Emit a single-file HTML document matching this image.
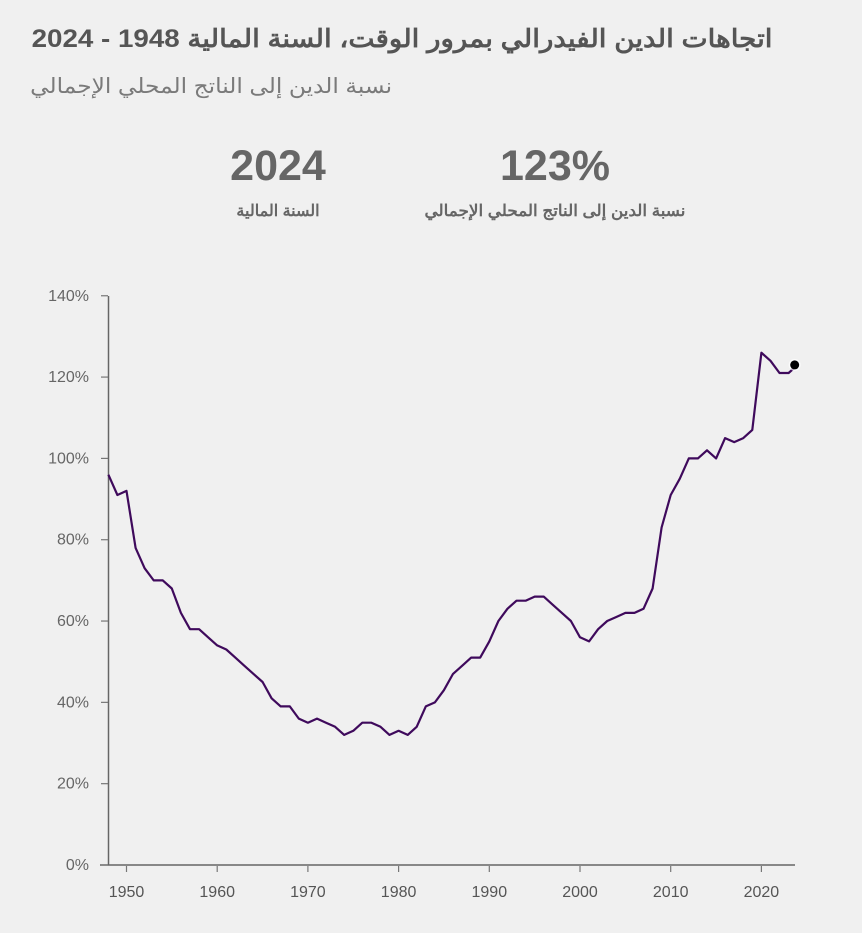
<!DOCTYPE html>
<html><head><meta charset="utf-8"><style>
body{margin:0;width:862px;height:933px;background:#f0f0f0;overflow:hidden;font-family:"Liberation Sans","Noto Sans CJK SC",sans-serif;}
.t{position:absolute;direction:rtl;white-space:nowrap;}
</style></head><body>
<div class="t" style="right:89px;top:24px;font-size:25px;font-weight:bold;color:#555;transform:scaleX(1.11);transform-origin:right top;">اتجاهات الدين الفيدرالي بمرور الوقت، السنة المالية 1948 - 2024</div>
<div class="t" style="right:470px;top:74px;font-size:21px;color:#7a7a7a;transform:scaleX(1.11);transform-origin:right top;">نسبة الدين إلى الناتج المحلي الإجمالي</div>
<div class="t" style="left:178px;top:142px;font-size:43px;font-weight:bold;color:#666;direction:ltr;width:200px;text-align:center;">2024</div>
<div class="t" style="left:178px;top:201px;font-size:16px;font-weight:bold;color:#666;width:200px;text-align:center;">السنة المالية</div>
<div class="t" style="left:455px;top:142px;font-size:43px;font-weight:bold;color:#666;direction:ltr;width:200px;text-align:center;">123%</div>
<div class="t" style="left:405px;top:201px;font-size:16px;font-weight:bold;color:#666;width:300px;text-align:center;transform:scaleX(1.05);">نسبة الدين إلى الناتج المحلي الإجمالي</div>
<svg id="s" width="862" height="933" style="position:absolute;left:0;top:0" font-family="Liberation Sans, sans-serif"></svg>
<script>
var d=[96,91,92,78,73,70,70,68,62,58,58,56,54,53,51,49,47,45,41,39,39,36,35,36,35,34,32,33,35,35,34,32,33,32,34,39,40,43,47,49,51,51,55,60,63,65,65,66,66,64,62,60,56,55,58,60,61,62,62,63,68,83,91,95,100,100,102,100,105,104,105,107,126,124,121,121,123];
function X(y){return 126.5+(y-1950)*9.07;}
function Y(v){return 865-v*4.066;}
var h='';
h+='<line x1="108.5" y1="296" x2="108.5" y2="865" stroke="#666" stroke-width="1.5"/>';
h+='<line x1="100" y1="865" x2="795" y2="865" stroke="#666" stroke-width="1.5"/>';
for(var v=0;v<=140;v+=20){var y=Y(v);h+='<line x1="101" y1="'+y+'" x2="108" y2="'+y+'" stroke="#777" stroke-width="1.2"/>';h+='<text x="89" y="'+(y+5)+'" text-anchor="end" font-size="16" fill="#666">'+v+'%</text>';}
for(var yr=1950;yr<=2020;yr+=10){var x=X(yr);h+='<line x1="'+x+'" y1="866" x2="'+x+'" y2="872" stroke="#777" stroke-width="1.2"/>';h+='<text x="'+x+'" y="897" text-anchor="middle" font-size="16" fill="#555">'+yr+'</text>';}
var p=d.map(function(v,i){return X(1948+i).toFixed(1)+','+Y(v).toFixed(1);}).join(' ');
h+='<polyline points="'+p+'" fill="none" stroke="#3f0a5c" stroke-width="2.2" stroke-linejoin="round"/>';
h+='<circle cx="'+(X(2024)-3)+'" cy="'+Y(123)+'" r="6" fill="#fff" opacity="0.7"/><circle cx="'+(X(2024)-3)+'" cy="'+Y(123)+'" r="4.5" fill="#000"/>';
document.getElementById('s').innerHTML=h;
</script>
</body></html>
